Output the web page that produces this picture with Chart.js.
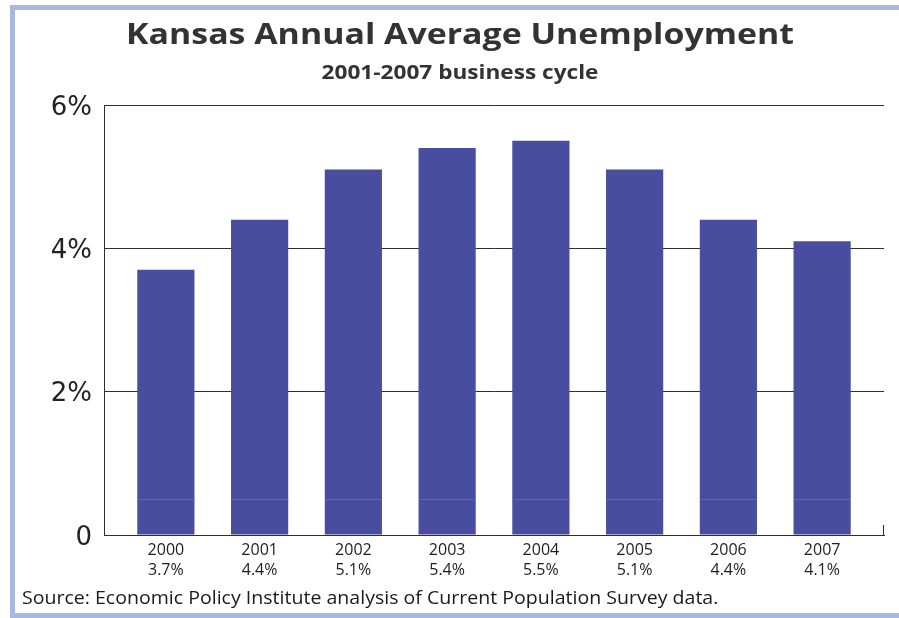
<!DOCTYPE html>
<html>
<head>
<meta charset="utf-8">
<title>Kansas Annual Average Unemployment</title>
<script src="https://cdn.jsdelivr.net/npm/chart.js@4/dist/chart.umd.min.js"></script>
<style>
  html, body { margin: 0; padding: 0; background: #fff; overflow: hidden; }
  #wrap { position: relative; width: 899px; height: 618px; overflow: hidden; background: #fff; }
  #frame {
    position: absolute; left: 10px; top: 5px; width: 1200px; height: 613px;
    border-left: 5px solid #a9b7e3; border-top: 5px solid #a9b7e3; border-bottom: 5px solid #a9b7e3;
    box-sizing: border-box;
  }
  canvas { position: absolute; left: 0; top: 0; }
</style>
</head>
<body>
<div id="wrap">
  <div id="frame"></div>
  <canvas id="chart" width="899" height="618"></canvas>
</div>
<script>
// Annual average unemployment rate, Kansas
const years = ['2000', '2001', '2002', '2003', '2004', '2005', '2006', '2007'];
const rates = [3.7, 4.4, 5.1, 5.4, 5.5, 5.1, 4.4, 4.1];
const yTickValues = [0, 2, 4, 6];
const yTickLabels = ['0', '2%', '4%', '6%'];

const titleText = 'Kansas Annual Average Unemployment';
const subtitleText = '2001-2007 business cycle';
const sourceText = 'Source: Economic Policy Institute analysis of Current Population Survey data.';

// thin magenta print rule visible across every bar
const printRuleValue = 0.5;

const FONT = '"Open Sans", "Noto Sans", sans-serif';
const TICK_FONT = '"DejaVu Sans", sans-serif';
const BAR_COLOR = '#484d9f';
const LINE_COLOR = '#2e2e2e';

// draws text horizontally widened by sx around its anchor
function wideText(ctx, text, x, y, sx) {
  ctx.save();
  ctx.translate(x, y);
  ctx.scale(sx, 1);
  ctx.fillText(text, 0, 0);
  ctx.restore();
}

const decor = {
  id: 'decor',
  afterDatasetsDraw(chart) {
    const { ctx, scales } = chart;
    const meta = chart.getDatasetMeta(0);
    const yPix = Math.round(scales.y.getPixelForValue(printRuleValue)) + 0.5;
    ctx.save();
    ctx.strokeStyle = 'rgba(205, 60, 165, 0.8)';
    ctx.lineWidth = 1;
    meta.data.forEach(el => {
      ctx.beginPath();
      ctx.moveTo(el.x - el.width / 2, yPix);
      ctx.lineTo(el.x + el.width / 2, yPix);
      ctx.stroke();
    });
    ctx.restore();
  },
  afterDraw(chart) {
    const { ctx, chartArea: a } = chart;
    ctx.save();
    ctx.fillStyle = '#333';
    ctx.textAlign = 'center';
    ctx.textBaseline = 'alphabetic';
    ctx.font = 'bold 28px ' + FONT;
    wideText(ctx, titleText, 460, 44, 1.21);
    ctx.font = 'bold 19px ' + FONT;
    wideText(ctx, subtitleText, 460, 79, 1.19);
    ctx.textAlign = 'left';
    ctx.fillStyle = '#1a1a1a';
    ctx.font = '18px ' + FONT;
    wideText(ctx, sourceText, 22, 604, 1.086);
    // small closing tick at the right end of the baseline
    ctx.strokeStyle = LINE_COLOR;
    ctx.lineWidth = 1;
    ctx.beginPath();
    ctx.moveTo(a.right - 0.5, a.bottom);
    ctx.lineTo(a.right - 0.5, a.bottom - 10);
    ctx.stroke();
    ctx.restore();
  }
};

new Chart(document.getElementById('chart'), {
  type: 'bar',
  data: {
    datasets: [{
      data: rates.map((r, i) => ({ x: i, y: r })),
      backgroundColor: BAR_COLOR,
      borderWidth: 0,
      categoryPercentage: 1,
      barPercentage: 0.61
    }]
  },
  options: {
    responsive: false,
    maintainAspectRatio: false,
    animation: false,
    layout: { padding: { left: 24, right: 15, top: 105, bottom: 33 } },
    plugins: { legend: { display: false }, tooltip: { enabled: false }, title: { display: false } },
    scales: {
      x: {
        type: 'linear',
        offset: false,
        min: -0.66,
        max: 7.66,
        afterBuildTicks: axis => { axis.ticks = years.map((_, i) => ({ value: i })); },
        afterFit: axis => { axis.height = 50; },
        grid: { display: false, drawTicks: false, offset: false },
        border: { display: true, color: LINE_COLOR, width: 1 },
        ticks: {
          autoSkip: false,
          maxRotation: 0,
          padding: 6,
          color: '#1e1e1e',
          font: { family: FONT, size: 16, lineHeight: 1.22 },
          callback: v => [years[v], rates[v].toFixed(1) + '%']
        }
      },
      y: {
        min: 0,
        max: 6,
        afterBuildTicks: axis => { axis.ticks = yTickValues.map(v => ({ value: v })); },
        afterFit: axis => { axis.width = 80; },
        grid: { color: LINE_COLOR, lineWidth: 1, drawTicks: false },
        border: { display: true, color: LINE_COLOR, width: 1 },
        ticks: {
          padding: 12,
          labelOffset: 3,
          color: '#222',
          font: { family: TICK_FONT, size: 26 },
          callback: v => yTickLabels[yTickValues.indexOf(v)]
        }
      }
    }
  },
  plugins: [decor]
});
</script>
</body>
</html>
